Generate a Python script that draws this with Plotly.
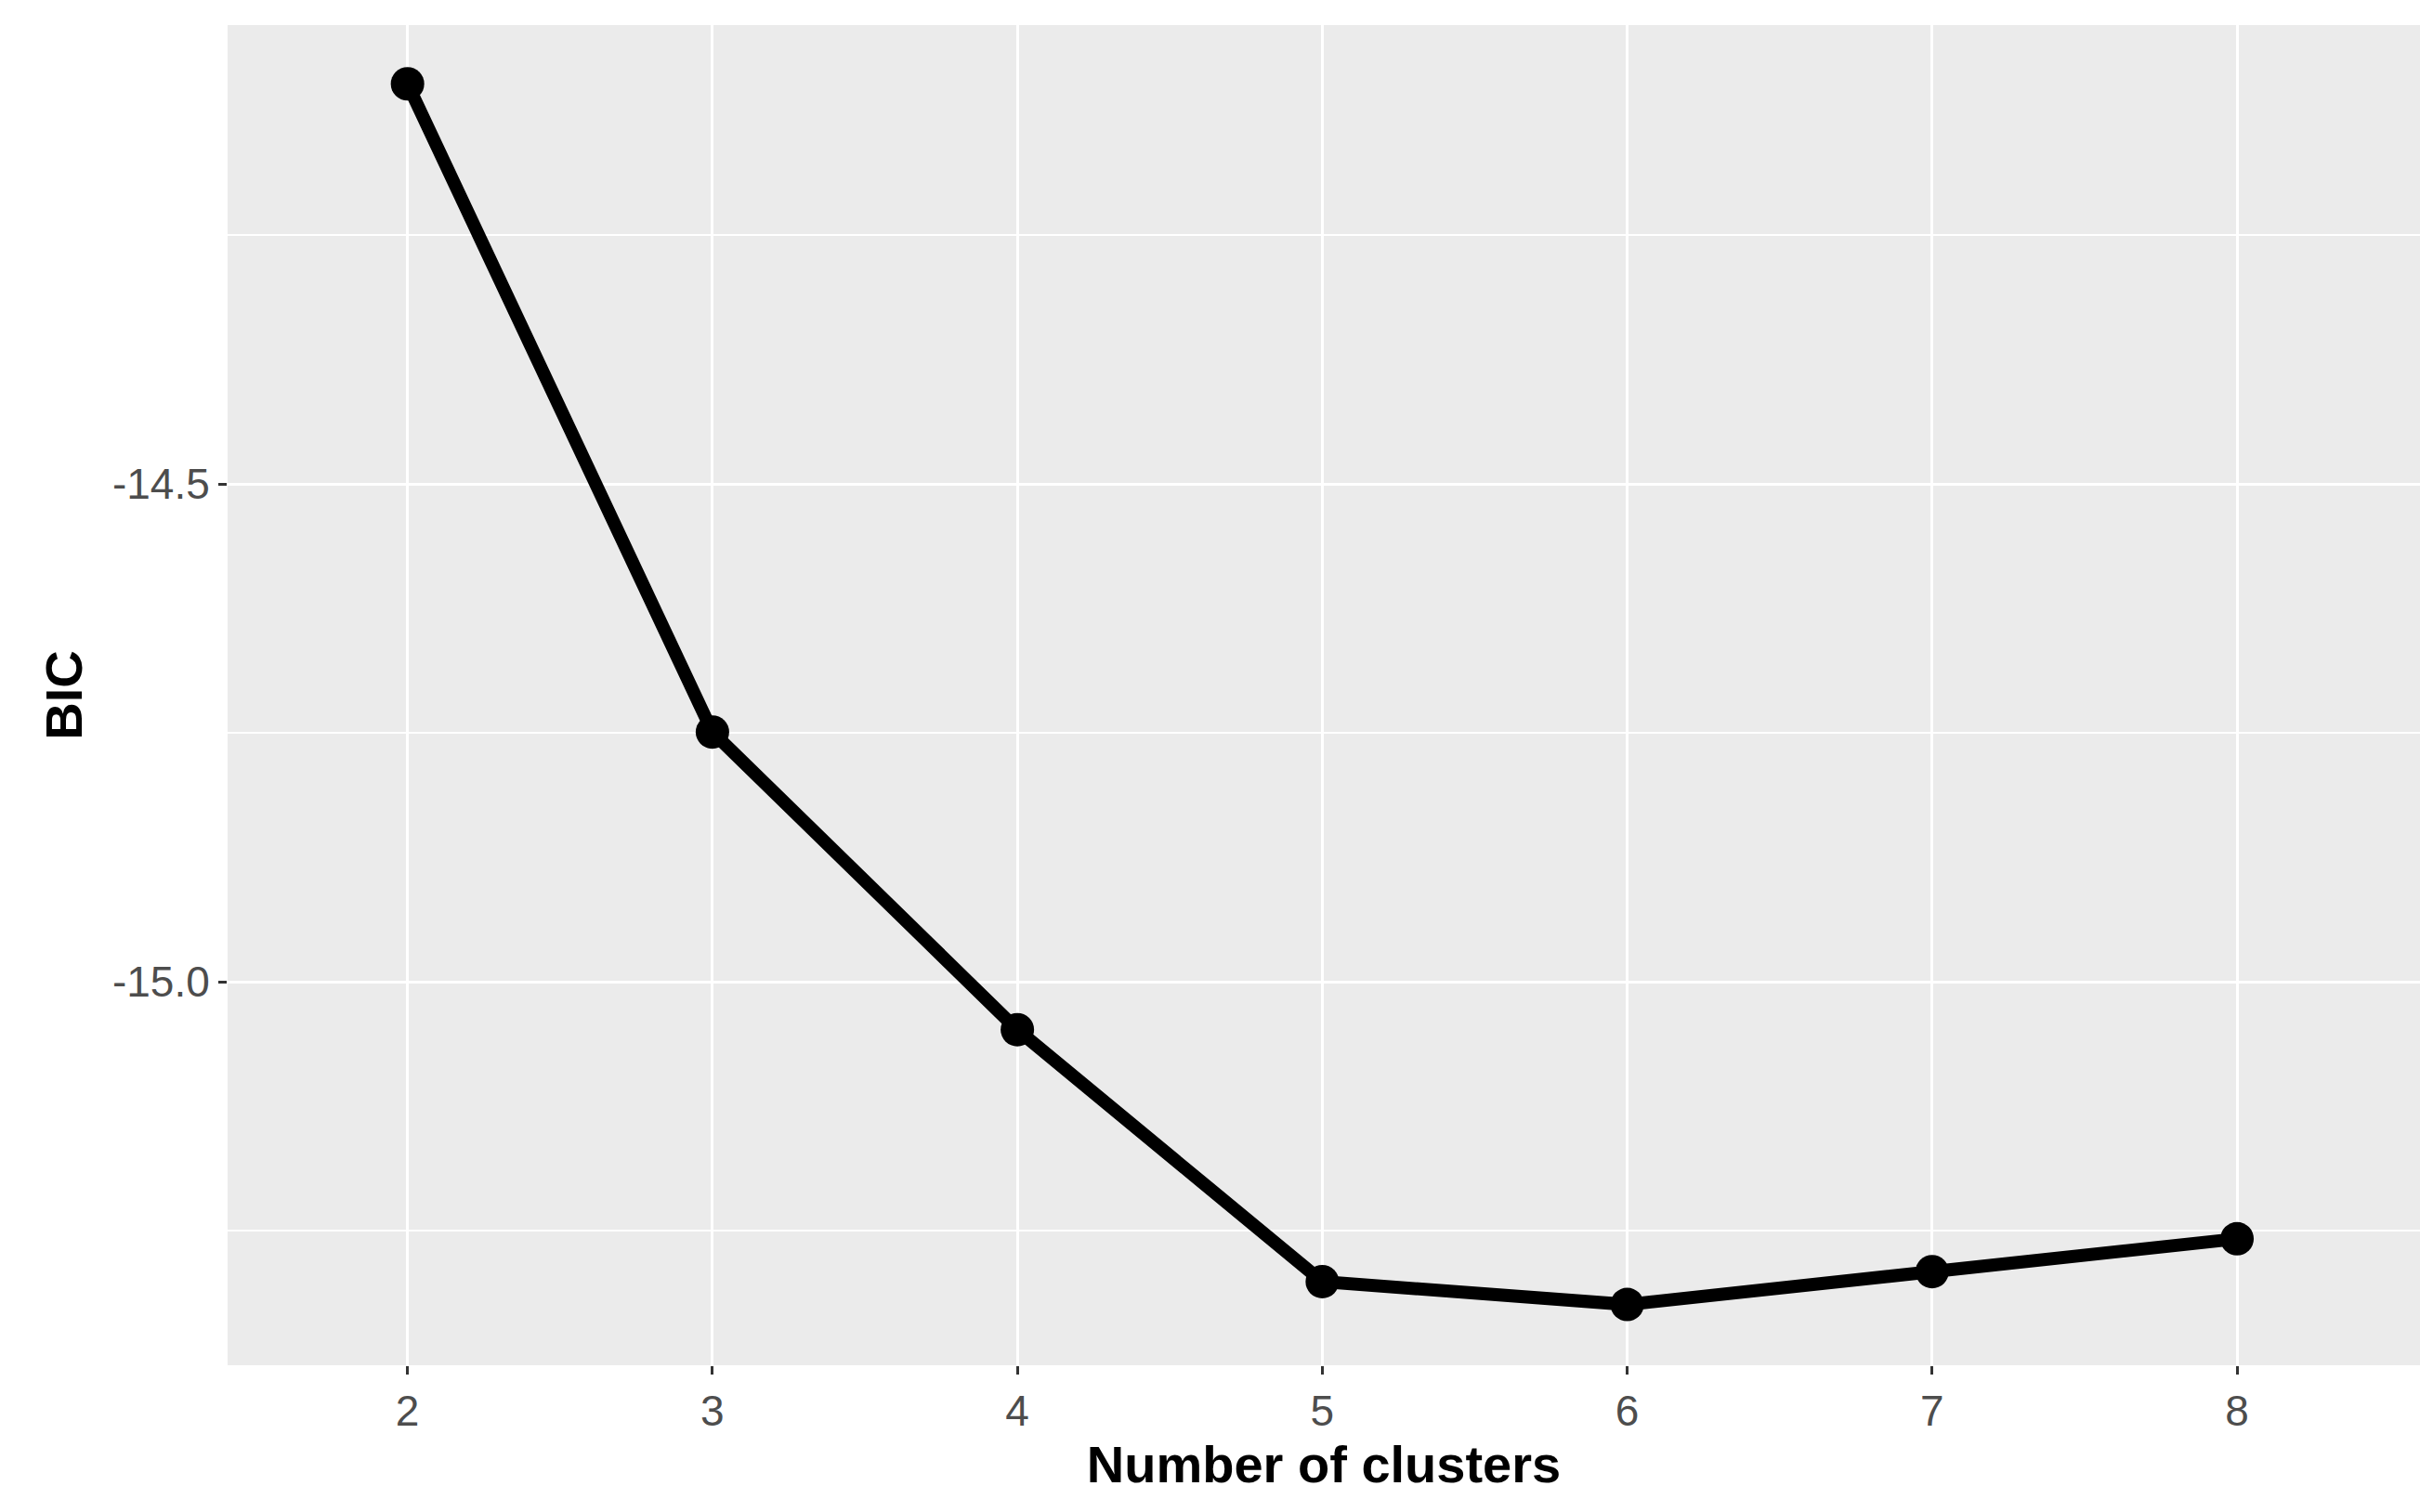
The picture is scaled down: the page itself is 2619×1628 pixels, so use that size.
import plotly.graph_objects as go

clusters = [2, 3, 4, 5, 6, 7, 8]
bic = [-14.098, -14.749, -15.048, -15.301, -15.324, -15.291, -15.258]

fig = go.Figure(go.Scatter(
    x=clusters, y=bic, mode="lines+markers",
    line=dict(color="black", width=14),
    marker=dict(color="black", size=36),
))
fig.update_layout(
    width=2619, height=1628,
    margin=dict(l=237, r=22, t=19, b=166),
    paper_bgcolor="white", plot_bgcolor="#EBEBEB",
    font=dict(family="Liberation Sans, Arial", color="#4D4D4D", size=46),
    showlegend=False,
)
fig.update_xaxes(
    range=[1.41, 8.6], tickvals=clusters, ticktext=[str(c) for c in clusters],
    showgrid=True, gridcolor="white", gridwidth=3, zeroline=False,
    ticks="outside", ticklen=9, tickwidth=3, tickcolor="#333333",
    title=dict(text="<b>Number of clusters</b>", font=dict(size=56, color="black"), standoff=4),
)
fig.update_yaxes(
    range=[-15.385, -14.039], tickvals=[-15.0, -14.5], ticktext=["-15.0", "-14.5"],
    showgrid=True, gridcolor="white", gridwidth=3, zeroline=False,
    minor=dict(tickvals=[-15.25, -14.75, -14.25], showgrid=True, gridcolor="white", gridwidth=1.5),
    ticks="outside", ticklen=9, tickwidth=3, tickcolor="#333333",
    title=dict(text="<b>BIC</b>", font=dict(size=56, color="black"), standoff=14),
)
fig.write_html("out.html")
